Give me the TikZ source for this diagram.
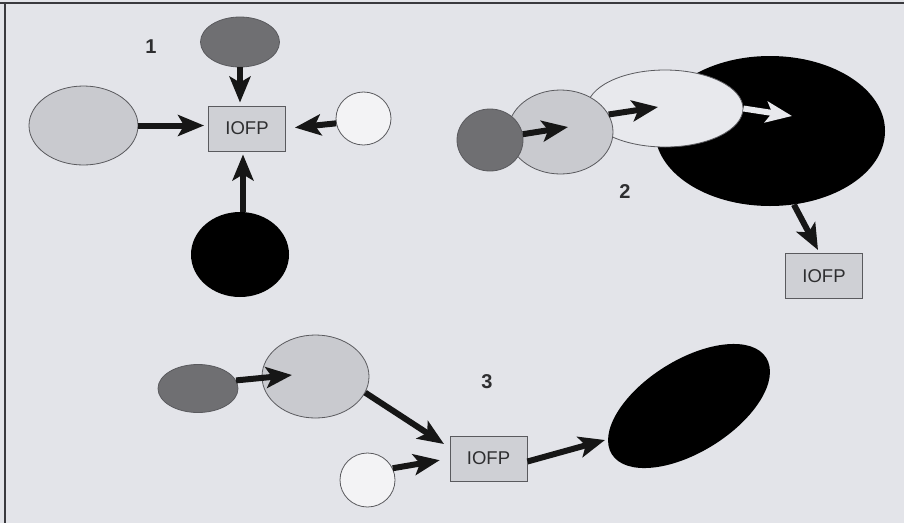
\documentclass[tikz,border=0pt]{standalone}
\usepackage{fontspec}
\setmainfont{Liberation Sans}
\usetikzlibrary{shapes.geometric,arrows.meta,calc}
\definecolor{bg}{HTML}{E3E4E9}
\definecolor{darkfill}{HTML}{6F6F72}
\definecolor{lightfill}{HTML}{C9CACF}
\definecolor{boxfill}{HTML}{CFD0D5}
\definecolor{whitefill}{HTML}{F3F3F5}
\definecolor{paleell}{HTML}{E8E9ED}
\definecolor{outline}{HTML}{5A5A5E}
\definecolor{arrowc}{HTML}{161616}
\definecolor{textc}{HTML}{2E2E30}
\definecolor{framec}{HTML}{3A3A3E}
\tikzset{
  blob/.style={ellipse, inner sep=0pt, draw=outline, line width=0.8pt},
  blackblob/.style={ellipse, inner sep=0pt, fill=black, draw=none},
  iofp/.style={rectangle, draw=outline, line width=0.9pt, fill=boxfill, inner sep=0pt,
    minimum width=77pt, minimum height=45pt, text=textc, font=\fontsize{18.5}{20}\selectfont},
  numlabel/.style={text=textc, font=\fontsize{20}{22}\selectfont\bfseries},
  arr/.style={draw=arrowc, line width=6pt, -{Stealth[length=26pt,width=21pt,inset=6pt,fill=arrowc]}},
  warr/.style={draw=paleell, line width=6pt, -{Stealth[length=26pt,width=21pt,inset=6pt,fill=paleell]}}
}
\begin{document}
\begin{tikzpicture}[x=1pt,y=-1pt]
\useasboundingbox (0,0) rectangle (904,523);
\fill[bg] (0,0) rectangle (904,523);
\draw[framec, line width=1.6pt] (0,3) -- (904,3);
\draw[framec, line width=1.6pt] (5,3) -- (5,523);

% ---------- Panel 1 ----------
\node[blob, fill=darkfill, minimum width=79pt, minimum height=50pt] (p1top) at (240,42) {};
\node[blob, fill=lightfill, minimum width=109pt, minimum height=79pt] (p1left) at (83.5,125.5) {};
\node[iofp] (p1box) at (247,128.5) {IOFP};
\node[blob, fill=whitefill, minimum width=55pt, minimum height=53pt] (p1right) at (363.5,118.5) {};
\node[blackblob, minimum width=98pt, minimum height=85pt] (p1bot) at (240,254.5) {};
\node[numlabel] (lab1) at (151,47) {1};

\draw[arr, shorten >=3pt] (p1top.south) -- (p1top.south |- p1box.north);
\draw[arr, shorten >=4pt] (p1left.east) -- (p1left.east -| p1box.west);
\draw[arr, shorten >=9pt] (p1right.190) -- (p1box.east);
\draw[arr, shorten >=3pt] ([xshift=3pt]p1bot.north) -- ([xshift=3pt]p1bot.north |- p1box.south);

% ---------- Panel 2 ----------
\node[blackblob, minimum width=230pt, minimum height=150pt] (p2black) at (770,131) {};
\node[blob, fill=paleell, minimum width=156pt, minimum height=77pt] (p2white) at (665,108.5) {};
\node[blob, fill=lightfill, minimum width=105pt, minimum height=84pt] (p2light) at (560.5,132) {};
\node[blob, fill=darkfill, minimum width=66pt, minimum height=62pt] (p2dark) at (490,140) {};
\node[iofp] (p2box) at (824,276) {IOFP};
\node[numlabel] (lab2) at (625,192) {2};

\coordinate (t2a) at (568,127);
\coordinate (t2b) at (658,107);
\coordinate (t2c) at (792,116);
\coordinate (t2d) at (818,250);
\draw[arr] (p2dark.10) -- (t2a);
\draw[arr] (p2light.20) -- (t2b);
\draw[warr] (p2white.east) -- (t2c);
\draw[arr] (p2black.-72) -- (t2d);

% ---------- Panel 3 ----------
\node[blob, fill=darkfill, minimum width=80pt, minimum height=48pt] (p3dark) at (198,388.5) {};
\node[blob, fill=lightfill, minimum width=107pt, minimum height=83pt] (p3light) at (315.5,376.5) {};
\node[blob, fill=whitefill, minimum width=55pt, minimum height=54pt] (p3white) at (367.5,480) {};
\node[iofp] (p3box) at (488.5,458.5) {IOFP};
\node[blackblob, rotate=32, minimum width=182pt, minimum height=92pt] (p3black) at (689,406) {};
\node[numlabel] (lab3) at (487,382) {3};

\coordinate (t3a) at (292,375);
\coordinate (t3b) at (444,444);
\coordinate (t3d) at (605,440);
\draw[arr] (p3dark.12) -- (t3a);
\draw[arr] (p3light.-18) -- (t3b);
\draw[arr, shorten >=10pt] (p3white.25) -- (p3box.west);
\draw[arr] ([yshift=-3pt]p3box.east) -- (t3d);
\end{tikzpicture}
\end{document}
